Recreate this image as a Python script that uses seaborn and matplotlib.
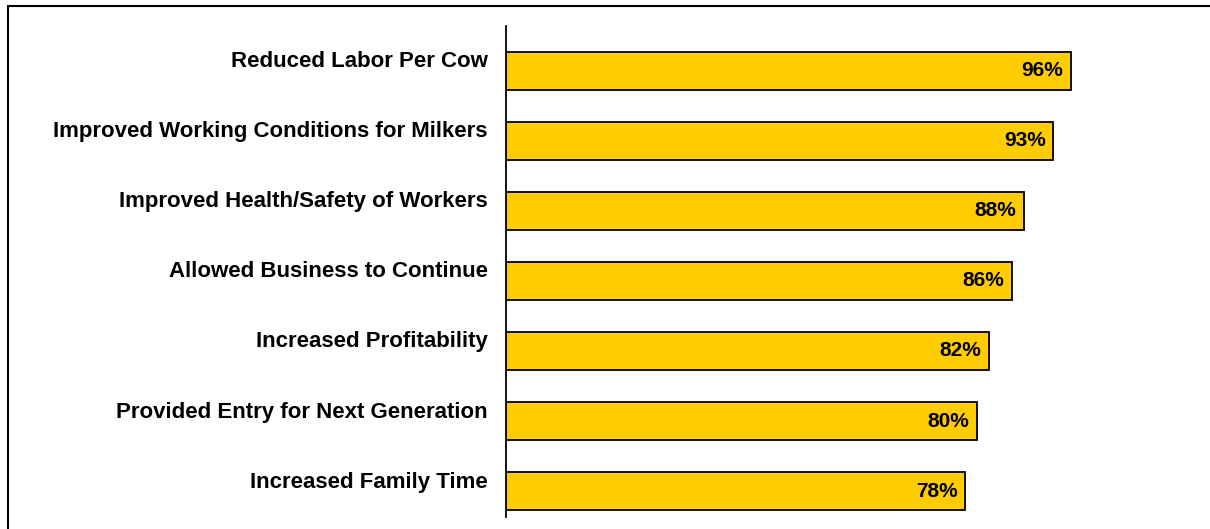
import seaborn as sns
import matplotlib.pyplot as plt
import matplotlib.transforms as mtransforms
import pandas as pd
from matplotlib.lines import Line2D

# Benefits of the new parlor, share of respondents (%)
categories = [
    "Reduced Labor Per Cow",
    "Improved Working Conditions for Milkers",
    "Improved Health/Safety of Workers",
    "Allowed Business to Continue",
    "Increased Profitability",
    "Provided Entry for Next Generation",
    "Increased Family Time",
]
values = [96, 93, 88, 86, 82, 80, 78]
value_labels = ["96%", "93%", "88%", "86%", "82%", "80%", "78%"]

df = pd.DataFrame({"benefit": categories, "pct": values})

sns.set_style("white")
plt.rcParams["font.family"] = ["Liberation Sans", "DejaVu Sans"]

W, H = 1210, 529
fig = plt.figure(figsize=(W / 100, H / 100), dpi=100)
ax = fig.add_axes([506 / W, 1 - 517 / H, (1094.5 - 506) / W, (517 - 26) / H])

sns.barplot(data=df, x="pct", y="benefit", orient="h", color="#FFCC00",
            saturation=1, width=0.54, edgecolor="black", linewidth=1.3, ax=ax)

for i, (v, lab) in enumerate(zip(values, value_labels)):
    ax.annotate(lab, xy=(v, i), xytext=(-5.5, 0), textcoords="offset points",
                ha="right", va="center", fontsize=15, fontweight="bold", color="black")

ax.set_xlim(0, 100)
ax.set_ylim(6.37, -0.64)
ax.set_xlabel("")
ax.set_ylabel("")
ax.set_xticks([])
ax.tick_params(axis="y", length=0, pad=13)
# category labels sit a bit above the bar centre, as in the original
shift = mtransforms.ScaledTranslation(0, 11.5 / 100, fig.dpi_scale_trans)
for lab in ax.get_yticklabels():
    lab.set_fontsize(16)
    lab.set_fontweight("bold")
    lab.set_color("black")
    lab.set_transform(lab.get_transform() + shift)
for s in ["top", "right", "bottom"]:
    ax.spines[s].set_visible(False)
ax.spines["left"].set_color("black")
ax.spines["left"].set_linewidth(1.3)

# outer frame (top and left edges visible)
fig.add_artist(Line2D([8 / W, 1.01], [1 - 6 / H, 1 - 6 / H], transform=fig.transFigure,
                      color="black", lw=1.5))
fig.add_artist(Line2D([8 / W, 8 / W], [1 - 6 / H, -0.01], transform=fig.transFigure,
                      color="black", lw=1.5))

fig.savefig("out.png", dpi=100)
